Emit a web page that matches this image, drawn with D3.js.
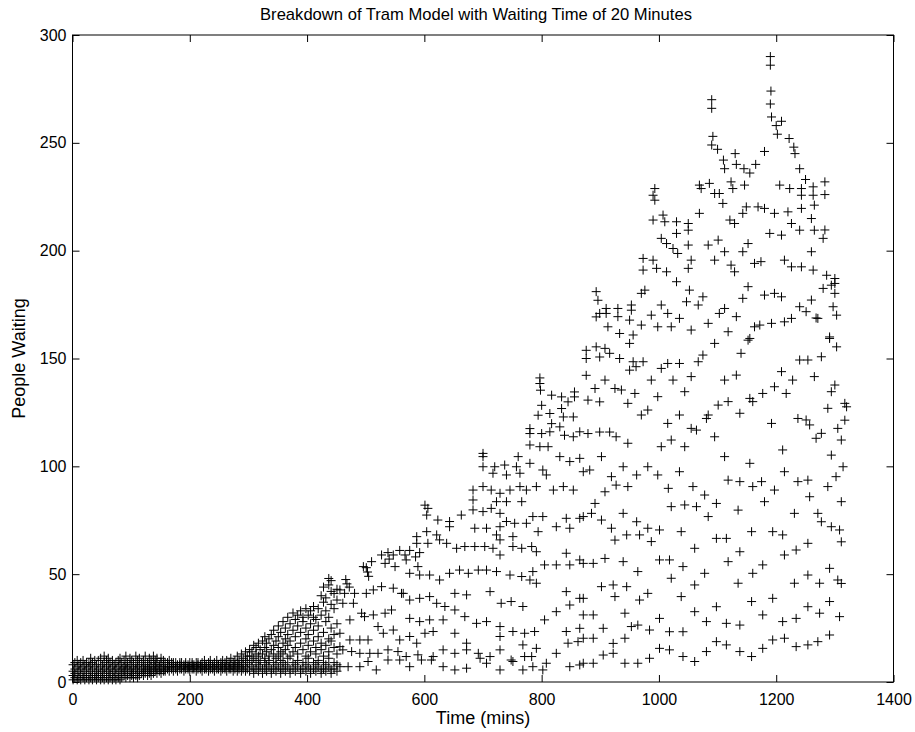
<!DOCTYPE html>
<html>
<head>
<meta charset="utf-8">
<script src="https://cdn.jsdelivr.net/npm/d3@7"></script>
<style>
  body { margin: 0; background: #fff; }
  svg { display: block; }
  text { font-family: "Liberation Sans", Arial, Helvetica, sans-serif; fill: #000; }
</style>
</head>
<body>
<svg id="chart" width="915" height="732"></svg>
<script>
// Tram model: people waiting at the stops, sampled over the day (time in minutes).

const xTicks = [0, 200, 400, 600, 800, 1000, 1200, 1400];
const yTicks = [0, 50, 100, 150, 200, 250, 300];

// Quiet start of the day: [time, [people waiting at the stops]]
const quietSamples = [
  [1, [1, 3, 5, 8]], [4, [2, 4, 6, 9]], [8, [1, 3, 7, 10]], [11, [2, 5, 8]], [14, [1, 4, 6, 9]],
  [18, [2, 3, 7, 10]], [21, [1, 5, 8]], [24, [2, 4, 6, 9]], [28, [1, 3, 7, 9]], [31, [2, 5, 8, 11]],
  [34, [1, 4, 6, 9]], [38, [2, 3, 7, 10]], [41, [1, 5, 8]], [44, [2, 4, 6, 10]], [48, [1, 3, 7, 11]],
  [51, [2, 5, 8]], [54, [1, 4, 6, 9, 12]], [58, [2, 3, 7, 10]], [61, [1, 5, 8, 11]], [64, [2, 4, 6, 9]],
  [68, [1, 3, 7, 10]], [71, [2, 5, 8]], [74, [1, 4, 6, 9]], [78, [2, 3, 7, 10]], [81, [1, 5, 8, 11]],
  [84, [2, 4, 6, 9]], [88, [3, 5, 7, 10]], [91, [2, 6, 8, 12]], [94, [3, 4, 7, 9]], [98, [2, 5, 8, 11]],
  [101, [3, 4, 6, 10]], [104, [2, 5, 7, 9]], [108, [3, 6, 8, 12]], [111, [2, 4, 7, 10]],
  [114, [3, 5, 8, 11]], [118, [4, 6, 9]], [121, [3, 5, 7, 10]], [124, [4, 6, 8, 12]],
  [128, [3, 5, 7, 9]], [131, [4, 6, 8, 11]], [134, [3, 5, 7, 10]], [138, [4, 6, 9, 12]],
  [141, [5, 7, 8, 10]], [144, [4, 6, 9, 11]], [148, [5, 7, 8]], [151, [4, 6, 9, 11]],
  [155, [5, 7, 8, 10]], [158, [5, 6, 9]], [162, [6, 7, 9]], [165, [5, 7, 8, 10]],
  [169, [6, 7, 9]], [172, [5, 8, 9]], [176, [6, 7, 9]], [179, [5, 7, 8]], [183, [6, 8, 9]],
  [186, [6, 7, 9]], [190, [5, 7, 8]], [193, [6, 8, 9]], [197, [6, 7, 8]], [200, [5, 7, 9]],
  [204, [6, 8, 9]], [207, [6, 7, 8]], [211, [5, 7, 9]], [214, [6, 8, 9]], [218, [6, 7, 8]],
  [221, [5, 7, 9]], [225, [6, 8, 10]], [228, [6, 7, 8]], [232, [5, 7, 9]], [235, [6, 8, 10]],
  [239, [6, 7, 8]], [242, [5, 7, 9]], [246, [6, 8, 10]], [249, [6, 7, 8]], [253, [5, 7, 9]],
  [256, [6, 8, 10]], [260, [6, 7, 9]], [263, [5, 8, 10]], [267, [6, 7, 9]], [270, [6, 8, 11]],
  [274, [5, 7, 9]], [277, [6, 8, 10]], [281, [5, 7, 9, 12]], [284, [6, 8, 10]], [288, [5, 7, 9, 13]],
  [291, [6, 8, 11]], [295, [5, 7, 10, 14]], [298, [6, 9, 12]]
];

// Queues start to build up: [time, [people waiting at the stops]]
const buildUpSamples = [
  [302, [5, 8, 12, 15]], [306, [7, 10, 14]], [309, [4, 6, 11, 17]], [313, [6, 9, 13, 16]],
  [317, [5, 8, 12, 18]], [320, [7, 10, 15]], [324, [4, 6, 13, 19]], [328, [6, 9, 11, 16, 21]],
  [331, [5, 8, 14, 18]], [335, [7, 10, 12, 20]], [339, [4, 6, 15, 22]], [343, [6, 9, 13, 17, 24]],
  [347, [5, 8, 11, 19]], [351, [7, 12, 16, 21, 26]], [355, [4, 6, 10, 14, 23]],
  [359, [6, 9, 13, 18, 28]], [363, [5, 8, 15, 20, 25]], [367, [7, 11, 17, 22, 30]],
  [371, [4, 6, 12, 19, 27]], [376, [6, 9, 14, 24, 32]], [380, [5, 8, 16, 21, 29]],
  [384, [7, 10, 13, 26, 31]], [389, [4, 6, 18, 23, 33]], [393, [6, 9, 15, 28, 30]],
  [398, [5, 8, 12, 20, 25, 34]], [402, [7, 11, 17, 22, 31]], [406, [4, 6, 14, 27, 33]],
  [411, [6, 9, 19, 24, 30, 35]], [415, [5, 8, 13, 16, 29]], [419, [7, 10, 21, 26, 34]],
  [424, [4, 6, 15, 18, 31, 40]], [428, [6, 9, 12, 23, 37, 44]], [432, [5, 8, 17, 28, 33, 39]],
  [437, [7, 11, 14, 20, 30, 45, 48]], [441, [4, 6, 19, 25, 36, 42, 47]],
  [446, [6, 9, 16, 22, 34, 41]], [451, [5, 8, 13, 27, 38, 43]]
];

// Middle of the day: [time, people waiting]
const middaySamples = [
  [780, 109.9], [797, 109.1], [811, 109.1], [700, 106], [700, 104.5], [760, 104.5], [831, 104.5],
  [848, 102.2], [865, 103.7], [700, 99.8], [720, 99.8], [737, 100.6], [757, 99.8], [780, 101.4],
  [802, 98.3], [808, 96], [717, 96.8], [740, 96], [763, 96.8],
  [683, 89], [700, 90.6], [714, 89], [729, 87.5], [746, 89], [763, 90.6], [774, 89], [791, 90.6],
  [820, 89], [837, 90.6], [854, 89], [683, 84.4], [723, 83.6], [740, 83.6], [766, 83.6],
  [683, 79.8], [700, 79], [714, 80.5], [729, 78.2],
  [601, 82], [606, 80.5], [604, 77.4], [623, 75.1], [643, 74.4], [663, 77.4], [643, 72], [686, 71.3],
  [706, 71.3], [729, 72], [740, 74.4], [754, 73.6], [774, 73.6], [785, 76.7], [802, 76.7],
  [825, 72], [842, 75.9], [865, 75.9], [723, 68.2], [751, 67.4], [794, 69.7], [848, 71.3],
  [587, 67.4], [604, 69.7], [621, 68.2], [587, 64.3], [606, 64.3], [626, 65.9], [638, 64.3],
  [655, 62], [669, 62.8], [686, 62.8], [703, 62.8], [717, 62], [729, 65.9], [751, 62.8],
  [766, 62], [783, 62.8], [729, 58.9], [791, 60.4], [842, 59.7],
  [558, 61], [538, 60], [540, 57], [575, 61], [585, 58], [592, 60],
  [527, 58.9], [547, 58.9], [567, 58.9], [510, 55.8], [496, 53.5], [533, 55], [550, 53.5],
  [501, 53], [503, 51], [505, 49], [466, 47.5], [468, 45.5], [472, 44],
  [569, 56.6], [589, 53.5], [575, 50.4], [592, 49.6], [609, 49.6], [626, 47.3], [643, 50.4],
  [660, 51.9], [675, 50.4], [692, 51.9], [706, 51.9], [723, 51.2], [746, 49.6], [766, 48.9],
  [780, 47.3], [785, 51.2], [805, 54.3], [825, 54.3], [848, 54.3], [865, 56.6],
  [456, 42.7], [464, 41.1], [481, 41.1], [501, 41.1], [513, 42.7], [527, 44.2], [547, 43.5],
  [561, 41.1], [575, 38], [592, 38.8], [609, 39.6], [621, 36.5], [635, 35], [652, 41.1],
  [672, 40.4], [712, 41.9], [731, 36.5], [748, 37.3], [768, 35], [791, 45.8], [842, 41.9],
  [865, 38.8], [825, 32.6], [848, 35.7],
  [461, 36.5], [479, 36.5], [493, 31.9], [473, 28.8], [498, 30.3], [513, 31.1], [533, 31.9],
  [544, 33.4], [564, 41.1], [575, 29.5], [592, 28], [609, 28.8], [632, 28.8], [652, 33.4],
  [669, 30.3], [689, 27.2], [706, 28], [729, 25.7], [751, 23.4], [771, 22.6], [788, 23.4],
  [805, 28.8], [842, 23.4], [865, 24.9],
  [456, 22.6], [473, 19.5], [490, 19.5], [504, 19.5], [521, 25.7], [530, 22.6], [547, 24.1],
  [558, 19.5], [575, 21.1], [587, 18], [601, 22.6], [615, 23.4], [632, 14.9], [652, 22.6],
  [672, 18], [692, 13.3], [712, 11.8], [729, 21.1], [768, 17.2], [791, 15.6], [825, 13.3],
  [845, 18], [862, 18.7],
  [456, 16.4], [461, 14.9], [476, 14.1], [490, 13.3], [507, 13.3], [521, 13.3], [538, 14.9],
  [555, 14.1], [569, 11.8], [589, 12.6], [615, 11.8], [632, 7.1], [652, 13.3], [672, 14.9],
  [695, 11], [729, 14.9], [748, 10.2], [771, 11.8], [783, 11.8], [808, 8.7], [848, 7.1], [865, 7.9],
  [456, 7.1], [470, 7.1], [490, 7.1], [504, 9.5], [518, 5.6], [538, 10.2], [558, 10.2],
  [575, 7.1], [595, 10.2], [612, 10.2], [652, 5.6], [672, 6.4], [706, 8.7], [729, 5.6],
  [751, 9.5], [768, 5.6], [785, 7.1], [802, 5.6],
  [797, 141], [797, 138.4], [798, 135.3], [817, 133], [834, 132.2], [856, 134.5], [856, 132.2],
  [845, 129.9], [800, 128.3], [794, 123.7], [814, 124.5], [834, 126.8], [837, 122.9],
  [854, 122.9], [817, 119.8], [831, 118.3], [780, 117.5], [780, 115.2], [800, 115.2],
  [839, 114.4], [854, 113.7], [865, 116], [814, 116]
];

// Evening: [time, people waiting]
const eveningSamples = [
  [1004, 109.1], [1044, 109.1], [1211, 107.6], [1294, 105.2], [902, 104.5], [871, 97.5], [882, 98.3],
  [919, 95.2], [939, 99.8], [962, 96], [981, 99.8], [998, 96], [1035, 97.5], [1112, 104.5],
  [1155, 101.4], [1214, 97.5], [1237, 92.9], [1254, 93.6], [1288, 90.6], [1302, 95.2],
  [908, 88.2], [927, 91.3], [947, 90.6], [891, 82.8], [1016, 89.8], [1058, 90.6], [1078, 86.7],
  [1098, 82.8], [1021, 81.3], [1044, 82.1], [1064, 81.3], [1118, 93.6], [1138, 92.9],
  [1160, 90.6], [1175, 92.9], [1197, 89], [1180, 83.6], [1257, 85.9],
  [871, 76.7], [885, 78.2], [902, 75.1], [939, 78.2], [962, 74.3], [981, 71.3], [1001, 70.5],
  [919, 71.3], [925, 65.8], [945, 68.2], [967, 68.2], [987, 65.1], [1038, 69.7], [1084, 76.7],
  [1135, 79.7], [1098, 66.6], [1115, 66.6], [1158, 69.7], [1194, 69.7], [1211, 68.2],
  [1231, 78.2], [1271, 78.2], [1277, 74.3], [1294, 72], [1308, 70.5],
  [1061, 62], [1138, 60.4], [1214, 58.9], [1234, 61.2], [1254, 64.3], [871, 55], [888, 55],
  [908, 57.3], [939, 55.8], [964, 51.2], [1001, 56.6], [1018, 56.6], [1041, 53.5], [1021, 48.1],
  [1118, 55.8], [1078, 50.4], [1061, 45], [1135, 45.8], [1160, 50.4], [1177, 54.3], [902, 44.2],
  [922, 45], [945, 44.2], [925, 39.6], [967, 38], [981, 41.1], [1038, 39.6], [1231, 45.8],
  [1254, 49.6], [1274, 45.8], [1291, 52.7], [1305, 47.3],
  [871, 38.8], [871, 31.1], [888, 31.1], [942, 31.9], [905, 24.9], [964, 26.4], [984, 24.1],
  [1001, 29.5], [1018, 23.3], [1041, 23.3], [1061, 32.6], [1081, 28], [1098, 34.9], [1115, 27.2],
  [1138, 26.4], [1158, 37.3], [1177, 31.1], [1194, 38.8], [1211, 28], [1234, 29.5], [1254, 34.9],
  [1274, 31.9], [1291, 37.3], [1308, 30.3],
  [871, 20.3], [888, 20.3], [922, 17.9], [942, 20.3], [953, 25.7], [922, 13.3], [905, 12.5],
  [871, 8.7], [888, 8.7], [942, 8.7], [964, 8.7], [984, 11], [1001, 15.6], [1018, 14.9],
  [1041, 11.8], [1061, 9.5], [1081, 14.1], [1098, 18.7], [1115, 17.2], [1138, 14.1], [1158, 11.8],
  [1177, 15.6], [1194, 19.5], [1214, 20.3], [1234, 16.4], [1254, 17.2], [1271, 18.7], [1291, 21.8],
  [879, 130.7], [899, 129.9], [879, 115.2], [876, 153.8], [876, 150], [893, 155.4], [899, 150.7],
  [876, 142.2], [891, 136.1], [893, 169.3], [896, 177], [893, 181],
  [993, 228.8], [993, 223.4], [990, 225.7], [1069, 230.4], [1072, 228.8], [1086, 231.2],
  [1095, 226.5], [1103, 226.5], [1109, 221.9], [1126, 228.8], [1146, 230.4], [1123, 231.9],
  [1206, 230.4], [1223, 228.8], [1243, 228.8], [1243, 225.7], [1263, 229.6], [1263, 225.7],
  [1265, 221.1], [990, 214.2], [1007, 216.5], [1010, 213.4], [1030, 213.4], [1030, 208],
  [1050, 212.6], [1050, 209.5], [1004, 205.7], [1013, 203.3], [1024, 201], [1032, 198.7],
  [1050, 202.6], [1069, 217.3], [1084, 202.6], [1101, 204.9], [1112, 199.5], [1121, 214.2],
  [1129, 212.6], [1143, 217.3], [1149, 220.3], [1169, 220.3], [1180, 219.6], [1197, 217.3],
  [1220, 218], [1243, 219.6], [1260, 214.9], [1226, 212.6], [1189, 208], [1209, 207.2],
  [1240, 209.5], [1265, 209.5], [1260, 199.5], [1152, 203.3], [1143, 199.5],
  [973, 196.4], [973, 191], [990, 195.6], [996, 191.8], [1013, 190.2], [1030, 185.6],
  [1055, 195.6], [1050, 191.8], [1095, 195.6], [1123, 193.3], [1129, 190.2], [1163, 194.1],
  [1174, 194.9], [1214, 195.6], [1226, 192.5], [1243, 192.5], [1263, 191],
  [976, 181.7], [970, 180.2], [1004, 174.8], [1015, 170.9], [1052, 181.7], [1047, 176.3],
  [1067, 174.8], [1075, 178.6], [1103, 170.9], [1112, 173.2], [1132, 169.4], [1152, 183.3],
  [1143, 177.9], [1180, 179.4], [1197, 180.2], [1209, 178.6], [1240, 174], [1251, 171.7],
  [1260, 177.1], [1271, 168.6], [1226, 168.6], [1214, 167],
  [910, 173.2], [910, 170.9], [930, 173.2], [930, 169.4], [953, 174.8], [953, 172.4], [899, 170.9],
  [913, 164.7], [933, 161.6], [950, 167.8], [956, 160.9], [950, 157], [970, 165.5], [987, 170.1],
  [998, 164.7], [1021, 164.7], [1035, 168.6], [1055, 163.2], [1084, 166.3], [1095, 157],
  [1118, 162.4], [1155, 159.3], [1163, 164.7], [1172, 165.5], [1192, 166.3], [1140, 152.4],
  [1152, 158.5],
  [908, 154.7], [916, 152.4], [933, 150], [956, 148.5], [973, 148.5], [961, 146.2], [950, 144.6],
  [1004, 145.4], [1015, 147.7], [1035, 147.7], [1067, 148.5], [1075, 151.6], [1112, 140],
  [1132, 142.3], [1209, 143.9], [1228, 140], [1240, 149.3], [1254, 149.3], [1265, 141.6],
  [908, 140], [925, 136.1], [936, 135.4], [959, 133.8], [987, 140], [998, 132.3], [1024, 140],
  [1044, 134.6], [1055, 141.6], [1101, 128.4], [1118, 130], [1155, 131.5], [1160, 130],
  [1177, 133.8], [1197, 136.9], [1217, 133.8],
  [947, 129.2], [970, 123.8], [981, 126.1], [1015, 119.9], [1035, 123.8], [1055, 117.6],
  [1064, 116.8], [1081, 122.2], [1084, 123.8], [1095, 113.7], [1138, 124.6], [1192, 119.9],
  [1237, 122.2], [1251, 121.5], [1257, 119.2], [1268, 113], [899, 115.9], [916, 115.9],
  [927, 113.7], [947, 110.7], [1021, 112.2],
  [1286, 188.6], [1300, 187.1], [1300, 184.8], [1280, 182.5], [1294, 184], [1300, 180.2],
  [1297, 174], [1303, 170.1], [1291, 159.3], [1303, 155.4], [1277, 150.8], [1300, 137.7],
  [1294, 134.6], [1288, 126.9], [1317, 129.2], [1320, 127.6], [1317, 121.4], [1305, 117.6],
  [1277, 115.3], [1311, 112.2], [1314, 99.8], [1311, 83.6], [1311, 65], [1311, 45.7],
  [1283, 231.9], [1283, 226], [1283, 209.6], [1280, 205.7], [1268, 168.8], [1291, 160]
];

// Highest queues of the evening: [time, people waiting]
const peakSamples = [
  [1090, 270], [1090, 266], [1092, 253], [1090, 249], [1100, 247], [1110, 242], [1112, 238],
  [1130, 245], [1132, 240], [1145, 238], [1155, 236], [1165, 240], [1180, 246],
  [1190, 290], [1190, 286], [1191, 274], [1190, 268], [1192, 262], [1200, 258], [1202, 254],
  [1209, 260], [1222, 252], [1230, 248], [1232, 245], [1240, 238], [1250, 233]
];

// Flatten everything into a single list of points
const points = [];
for (const [t, vals] of quietSamples.concat(buildUpSamples)) {
  for (const v of vals) points.push([t, v]);
}
for (const p of middaySamples.concat(eveningSamples, peakSamples)) points.push(p);

const width = 915, height = 732;
const margin = { top: 35, right: 21.5, bottom: 50, left: 72.5 };
const innerW = width - margin.left - margin.right;
const innerH = height - margin.top - margin.bottom;

const svg = d3.select("#chart");
svg.append("rect").attr("width", width).attr("height", height).attr("fill", "#fff");

const x = d3.scaleLinear().domain([0, 1400]).range([margin.left, margin.left + innerW]);
const y = d3.scaleLinear().domain([0, 300]).range([margin.top + innerH, margin.top]);

const tickLen = 7;
const tickFont = 16;

// Markers (drawn first so the frame sits on top)
const arm = 4.5;
const markerPath = points.map(([t, v]) => {
  const px = x(t), py = y(v);
  return `M${px - arm},${py}h${2 * arm}M${px},${py - arm}v${2 * arm}`;
}).join("");
svg.append("path")
  .attr("d", markerPath)
  .attr("fill", "none")
  .attr("stroke", "#000")
  .attr("stroke-width", 1);

// Axes with inward ticks, boxed like a MATLAB figure
const axisStyle = g => {
  g.select(".domain").remove();
  g.selectAll(".tick line").attr("stroke", "#000");
  g.selectAll(".tick text").attr("font-size", tickFont).attr("fill", "#000");
  g.attr("font-family", null);
};
const fmt = d3.format("d");

svg.append("g")
  .attr("transform", `translate(0,${margin.top + innerH})`)
  .call(d3.axisBottom(x).tickValues(xTicks).tickFormat(fmt)
    .tickSizeInner(-tickLen).tickSizeOuter(0).tickPadding(12))
  .call(axisStyle);

svg.append("g")
  .attr("transform", `translate(0,${margin.top})`)
  .call(d3.axisTop(x).tickValues(xTicks).tickSizeInner(-tickLen).tickSizeOuter(0).tickFormat(""))
  .call(axisStyle);

svg.append("g")
  .attr("transform", `translate(${margin.left},0)`)
  .call(d3.axisLeft(y).tickValues(yTicks).tickFormat(fmt)
    .tickSizeInner(-tickLen).tickSizeOuter(0).tickPadding(6))
  .call(axisStyle);

svg.append("g")
  .attr("transform", `translate(${margin.left + innerW},0)`)
  .call(d3.axisRight(y).tickValues(yTicks).tickSizeInner(-tickLen).tickSizeOuter(0).tickFormat(""))
  .call(axisStyle);

svg.append("rect")
  .attr("x", margin.left).attr("y", margin.top)
  .attr("width", innerW).attr("height", innerH)
  .attr("fill", "none").attr("stroke", "#000").attr("stroke-width", 1);

// Titles
svg.append("text")
  .attr("x", 476).attr("y", 20)
  .attr("text-anchor", "middle").attr("font-size", 16.6)
  .text("Breakdown of Tram Model with Waiting Time of 20 Minutes");

svg.append("text")
  .attr("x", 483).attr("y", 724)
  .attr("text-anchor", "middle").attr("font-size", 18)
  .text("Time (mins)");

svg.append("text")
  .attr("transform", `translate(25,${margin.top + innerH / 2}) rotate(-90)`)
  .attr("text-anchor", "middle").attr("font-size", 18)
  .text("People Waiting");
</script>
</body>
</html>
